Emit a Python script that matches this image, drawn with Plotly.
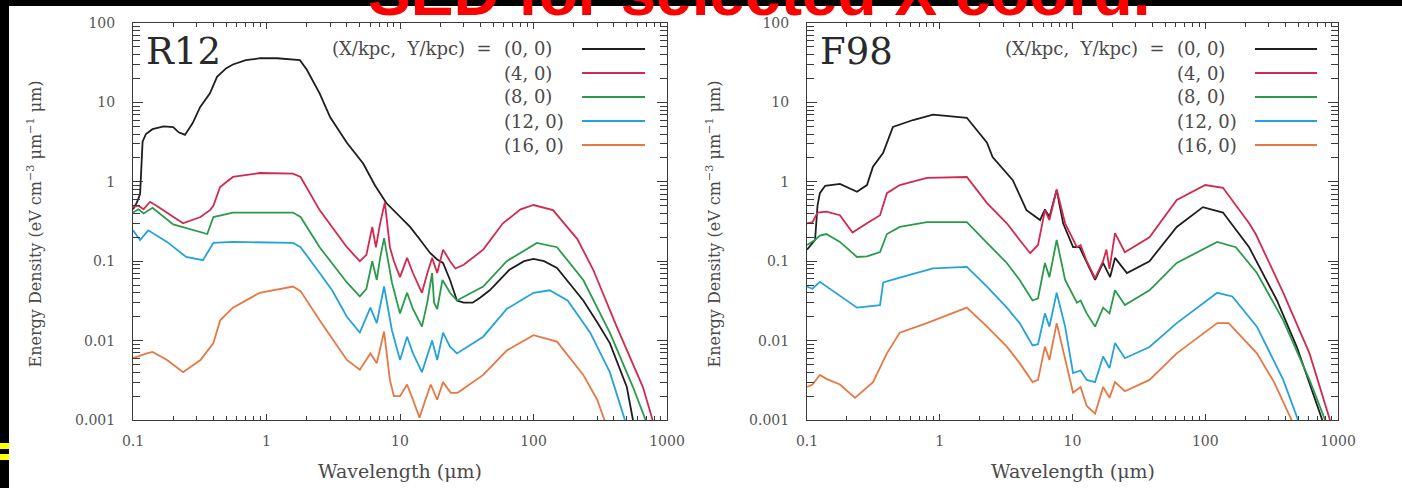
import plotly.graph_objects as go

W, H = 1402, 488

# ---------------- data ----------------
SERIES_NAMES = ["(0, 0)", "(4, 0)", "(8, 0)", "(12, 0)", "(16, 0)"]
SERIES_COLORS = ["#1e1e1e", "#d02a4f", "#2a9a4c", "#24a2d9", "#e57843"]

X_TICKS = [0.1, 1, 10, 100, 1000]
X_TICK_LABELS = ["0.1", "1", "10", "100", "1000"]
Y_TICKS = [0.001, 0.01, 0.1, 1, 10, 100]
Y_TICK_LABELS = ["0.001", "0.01", "0.1", "1", "10", "100"]

# R12 model, wavelength (um) / energy density
r12_x0_lam = [0.1, 0.107, 0.113, 0.118, 0.125, 0.14, 0.17, 0.2, 0.22, 0.245, 0.28, 0.318, 0.377,
              0.426, 0.5, 0.56, 0.7, 0.9, 1.2, 1.6, 1.78, 2.0, 2.5, 3.0, 4.0, 5.3, 6.5, 7.9, 10,
              11.9, 14, 16.8, 19, 21, 23.7, 26.7, 30, 35, 40, 47, 66, 85, 100, 120, 150, 236,
              300, 373, 500, 556, 600]
r12_x0_val = [0.45, 0.55, 0.7, 3.2, 4.0, 4.6, 5.0, 4.9, 4.2, 3.9, 5.5, 8.7, 13,
              21, 27, 30, 34, 36, 36, 35, 34, 26, 13, 6.5, 3.1, 1.7, 0.9, 0.54, 0.36,
              0.27, 0.19, 0.127, 0.105, 0.095, 0.058, 0.032, 0.030, 0.030, 0.035, 0.043, 0.078, 0.1, 0.107, 0.1, 0.082, 0.032,
              0.017, 0.0093, 0.0026, 0.001, 0.0007]

r12_x4_lam = [0.1, 0.11, 0.12, 0.134, 0.15, 0.18, 0.237, 0.32, 0.377, 0.40, 0.449, 0.56, 0.89, 1.58,
              1.8, 2.5, 3.2, 4.0, 5.0, 5.6, 6.2, 6.6, 7.1, 7.7, 8.4, 9.0, 10, 11.3, 12.5, 14.6,
              16, 17.4, 19, 21, 23.7, 26, 30, 42, 59, 80, 100, 140, 213, 280, 420, 660, 780, 850]
r12_x4_val = [0.48, 0.5, 0.45, 0.56, 0.5, 0.41, 0.30, 0.36, 0.44, 0.5, 0.86, 1.15, 1.29, 1.27,
              1.15, 0.44, 0.25, 0.15, 0.10, 0.12, 0.27, 0.15, 0.3, 0.55, 0.15, 0.1, 0.063, 0.11, 0.071, 0.04,
              0.07, 0.11, 0.071, 0.14, 0.10, 0.081, 0.09, 0.14, 0.30, 0.45, 0.51, 0.44, 0.19, 0.078, 0.015, 0.0026, 0.001, 0.0007]

r12_x8_lam = [0.1, 0.11, 0.12, 0.14, 0.2, 0.32, 0.36, 0.40, 0.56, 1.58, 1.8, 2.5, 4.0, 5.0, 5.6,
              6.2, 6.7, 7.1, 7.6, 8.7, 10, 11.3, 12.5, 14.6, 16, 17.4, 18, 19, 20.8, 23.7, 26.7,
              42, 63, 106, 150, 236, 373, 556, 685, 750]
r12_x8_val = [0.41, 0.45, 0.4, 0.47, 0.29, 0.23, 0.22, 0.36, 0.41, 0.41, 0.36, 0.15, 0.054, 0.036, 0.045,
              0.10, 0.058, 0.11, 0.195, 0.054, 0.022, 0.04, 0.025, 0.015, 0.03, 0.071, 0.03, 0.025, 0.058, 0.04, 0.032,
              0.048, 0.10, 0.17, 0.15, 0.058, 0.0126, 0.0026, 0.001, 0.0007]

r12_x12_lam = [0.1, 0.113, 0.13, 0.18, 0.25, 0.334, 0.40, 0.56, 1.58, 1.8, 2.5, 3.1, 4.0, 5.0, 6.0,
               6.7, 7.6, 8.7, 10, 11.3, 12.5, 14.6, 17.4, 19, 21, 23.7, 26.7, 42, 63, 100, 132,
               180, 266, 373, 484, 530]
r12_x12_val = [0.245, 0.185, 0.245, 0.175, 0.113, 0.103, 0.17, 0.175, 0.17, 0.15, 0.071, 0.043, 0.02, 0.0126, 0.026,
               0.0166, 0.048, 0.0135, 0.0057, 0.0112, 0.0069, 0.004, 0.01, 0.0057, 0.0126, 0.0084, 0.0069, 0.0112, 0.025, 0.04, 0.043,
               0.032, 0.0126, 0.004, 0.001, 0.0007]

r12_x16_lam = [0.1, 0.113, 0.127, 0.14, 0.18, 0.237, 0.32, 0.40, 0.45, 0.56, 0.89, 1.58, 1.8, 2.5,
               4.0, 5.0, 6.0, 6.7, 7.6, 8.4, 9.0, 10, 11.3, 12.5, 14, 15.5, 17, 19, 21, 24, 27,
               42, 63, 100, 150, 236, 300, 340, 380]
r12_x16_val = [0.006, 0.0065, 0.0069, 0.0072, 0.0057, 0.004, 0.0057, 0.0093, 0.018, 0.026, 0.04, 0.048, 0.042, 0.018,
               0.0057, 0.0043, 0.0069, 0.0052, 0.013, 0.0032, 0.002, 0.002, 0.0028, 0.0018, 0.00107, 0.0018, 0.0028, 0.0018, 0.003, 0.0022, 0.0022,
               0.0037, 0.0075, 0.0117, 0.0097, 0.0037, 0.0018, 0.001, 0.0007]

# F98 model, wavelength (um) / energy density
f98_x0_lam = [0.1, 0.115, 0.12, 0.125, 0.137, 0.177, 0.238, 0.283, 0.314, 0.374, 0.444, 0.63, 0.89,
              1.6, 2.27, 2.5, 3.55, 4.5, 5.7, 6.2, 6.7, 7.6, 8.5, 10.1, 11.3, 12.8, 14.8, 17, 19.2,
              20.9, 25.7, 38, 61, 96, 136, 214, 347, 490, 760, 820]
f98_x0_val = [0.14, 0.185, 0.5, 0.72, 0.89, 0.94, 0.75, 0.91, 1.55, 2.3, 4.9, 6.0, 7.0,
              6.4, 3.1, 2.05, 1.05, 0.44, 0.33, 0.45, 0.36, 0.79, 0.3, 0.15, 0.15, 0.095, 0.058, 0.095, 0.063,
              0.11, 0.071, 0.10, 0.27, 0.48, 0.41, 0.15, 0.032, 0.0083, 0.001, 0.0007]

f98_x4_lam = [0.1, 0.11, 0.12, 0.14, 0.177, 0.22, 0.283, 0.355, 0.40, 0.5, 0.8, 1.6, 2.27, 3.2,
              4.0, 4.8, 5.5, 6.2, 6.7, 7.6, 8.8, 10.8, 11.5, 12.8, 14.8, 17, 18, 19, 20.9, 24.8,
              38, 61, 100, 136, 214, 240, 387, 610, 870, 950]
f98_x4_val = [0.30, 0.31, 0.41, 0.42, 0.38, 0.23, 0.30, 0.38, 0.72, 0.91, 1.12, 1.15, 0.54, 0.30,
              0.185, 0.126, 0.16, 0.44, 0.33, 0.8, 0.3, 0.15, 0.16, 0.10, 0.061, 0.10, 0.14, 0.08, 0.226, 0.13,
              0.2, 0.59, 0.91, 0.84, 0.30, 0.22, 0.04, 0.0069, 0.001, 0.0007]

f98_x8_lam = [0.1, 0.115, 0.125, 0.14, 0.177, 0.238, 0.283, 0.355, 0.40, 0.5, 0.8, 1.6, 2.27, 3.2,
              4.0, 5.0, 5.5, 6.2, 6.7, 7.6, 8.8, 10.8, 11.5, 12.8, 14.8, 17, 19, 20.9, 24.8, 38,
              61, 123, 170, 245, 387, 610, 800, 870]
f98_x8_val = [0.16, 0.185, 0.21, 0.22, 0.175, 0.113, 0.115, 0.13, 0.22, 0.27, 0.31, 0.31, 0.17, 0.095,
              0.058, 0.032, 0.034, 0.095, 0.063, 0.185, 0.058, 0.03, 0.032, 0.022, 0.015, 0.026, 0.022, 0.043, 0.028, 0.043,
              0.095, 0.175, 0.15, 0.071, 0.018, 0.0032, 0.001, 0.0007]

f98_x12_lam = [0.1, 0.11, 0.125, 0.14, 0.177, 0.238, 0.355, 0.375, 0.5, 0.89, 1.6, 2.27, 3.2, 4.0,
               5.0, 5.5, 6.2, 6.7, 7.6, 8.8, 10.1, 11.5, 12.8, 14.8, 17, 19, 20.9, 24.8, 38, 61,
               123, 160, 245, 387, 500, 560]
f98_x12_val = [0.048, 0.045, 0.055, 0.048, 0.037, 0.026, 0.028, 0.054, 0.062, 0.081, 0.085, 0.048, 0.026, 0.0166,
               0.0087, 0.009, 0.022, 0.015, 0.04, 0.015, 0.0039, 0.0042, 0.0032, 0.003, 0.0063, 0.0045, 0.0093, 0.006, 0.0083, 0.0166,
               0.04, 0.036, 0.015, 0.0032, 0.001, 0.0007]

f98_x16_lam = [0.1, 0.11, 0.125, 0.14, 0.177, 0.23, 0.314, 0.4, 0.5, 0.8, 1.6, 2.27, 3.2, 4.0,
               5.0, 5.5, 6.2, 6.7, 7.6, 8.8, 10.1, 11.5, 12.8, 14.8, 17, 19, 20.9, 24.8, 38, 61,
               123, 150, 245, 330, 420, 460]
f98_x16_val = [0.0026, 0.0028, 0.0037, 0.0033, 0.0028, 0.0019, 0.003, 0.0069, 0.0126, 0.0166, 0.026, 0.015, 0.0084, 0.0052,
               0.003, 0.0032, 0.0084, 0.0057, 0.0166, 0.0057, 0.0022, 0.0026, 0.0015, 0.0012, 0.0026, 0.0019, 0.003, 0.0023, 0.0032, 0.0069,
               0.0166, 0.0166, 0.0069, 0.003, 0.0012, 0.0009]

PANELS = [
    ("R12", [(r12_x0_lam, r12_x0_val), (r12_x4_lam, r12_x4_val), (r12_x8_lam, r12_x8_val),
             (r12_x12_lam, r12_x12_val), (r12_x16_lam, r12_x16_val)]),
    ("F98", [(f98_x0_lam, f98_x0_val), (f98_x4_lam, f98_x4_val), (f98_x8_lam, f98_x8_val),
             (f98_x12_lam, f98_x12_val), (f98_x16_lam, f98_x16_val)]),
]

# ---------------- layout helpers (pixel -> paper) ----------------
def fx(px):
    return px / W


def fy(py):
    return 1 - py / H


TEXT = "#4a4a4a"
SERIF = "DejaVu Serif"
NB = "\u00a0"

# plot frames in pixels: (left, right), shared (top, bottom)
FRAMES = [(133, 667), (807, 1338)]
TOP, BOTTOM = 23, 420

minor_x = [k * 10 ** e for e in range(-1, 3) for k in range(2, 10)]
minor_y = [k * 10 ** e for e in range(-3, 2) for k in range(2, 10)]

fig = go.Figure()

for i, (label, series) in enumerate(PANELS):
    xa = "x" if i == 0 else "x2"
    ya = "y" if i == 0 else "y2"
    for (lam, val), color, name in zip(series, SERIES_COLORS, SERIES_NAMES):
        fig.add_trace(go.Scatter(x=lam, y=val, mode="lines", name=name,
                                 line=dict(color=color, width=1.8),
                                 xaxis=xa, yaxis=ya, showlegend=False,
                                 hoverinfo="skip"))

axis_common = dict(type="log", showline=True, linecolor="#3a3a3a", linewidth=1,
                   mirror="allticks", ticks="inside", tickcolor="#3a3a3a",
                   showgrid=False, zeroline=False, automargin=False,
                   tickfont=dict(family=SERIF, size=14, color="#555555"))

layout_axes = {}
for i, (l, r) in enumerate(FRAMES):
    sfx = "" if i == 0 else "2"
    layout_axes["xaxis" + sfx] = dict(
        axis_common, domain=[fx(l), fx(r)], range=[-1, 3], anchor="y" + sfx,
        tickmode="array", tickvals=X_TICKS, ticktext=X_TICK_LABELS,
        ticklen=6, tickwidth=1, ticklabelstandoff=8,
        minor=dict(ticks="inside", ticklen=4, tickcolor="#3a3a3a", tickmode="array",
                   tickvals=minor_x, showgrid=False))
    layout_axes["yaxis" + sfx] = dict(
        axis_common, domain=[fy(BOTTOM), fy(TOP)], range=[-3, 2], anchor="x" + sfx,
        tickmode="array", tickvals=Y_TICKS, ticktext=Y_TICK_LABELS,
        ticklen=10, tickwidth=1, ticklabelstandoff=14,
        minor=dict(ticks="inside", ticklen=7, tickcolor="#3a3a3a", tickmode="array",
                   tickvals=minor_y, showgrid=False))

annotations = []
shapes = []

# white page on black backdrop, plus yellow bars at the left edge
shapes.append(dict(type="rect", xref="paper", yref="paper", x0=fx(9), x1=1.0, y0=0, y1=fy(6),
                   fillcolor="white", line=dict(width=0), layer="below"))
for y0, y1 in [(443, 449), (454, 460)]:
    shapes.append(dict(type="rect", xref="paper", yref="paper", x0=0, x1=fx(9), y0=fy(y1), y1=fy(y0),
                       fillcolor="#ffff00", line=dict(width=0), layer="above"))

LEGEND_ROWS = [49, 73, 97, 121, 145]
legend_geom = [  # (prefix right edge, entry left edge, line x0, line x1)
    (494, 502, 582, 645),
    (1167, 1175, 1255, 1317),
]
label_pos = [(144, 51), (818, 51)]
ytitle_x = [35, 714]
LEG_FONT = 18
LEG_HEADER = "(X/kpc," + NB + NB + "Y/kpc)" + NB + NB + "="

for i, (label, series) in enumerate(PANELS):
    l, r = FRAMES[i]
    pre_r, ent_l, lx0, lx1 = legend_geom[i]
    annotations.append(dict(text=label, x=fx(label_pos[i][0]), y=fy(label_pos[i][1]),
                            xref="paper", yref="paper", xanchor="left", yanchor="middle",
                            showarrow=False, font=dict(family=SERIF, size=37, color="#2a2a2a")))
    annotations.append(dict(text=LEG_HEADER, x=fx(pre_r), y=fy(LEGEND_ROWS[0]),
                            xref="paper", yref="paper", xanchor="right", yanchor="middle",
                            showarrow=False, font=dict(family=SERIF, size=LEG_FONT, color=TEXT)))
    for row, name, color in zip(LEGEND_ROWS, SERIES_NAMES, SERIES_COLORS):
        annotations.append(dict(text=name, x=fx(ent_l), y=fy(row), xref="paper", yref="paper",
                                xanchor="left", yanchor="middle", showarrow=False,
                                font=dict(family=SERIF, size=LEG_FONT, color=TEXT)))
        shapes.append(dict(type="line", xref="paper", yref="paper", x0=fx(lx0), x1=fx(lx1),
                           y0=fy(row), y1=fy(row), line=dict(color=color, width=2.2)))
    annotations.append(dict(text="Wavelength (μm)", x=fx((l + r) / 2), y=fy(471),
                            xref="paper", yref="paper", xanchor="center", yanchor="middle",
                            showarrow=False, font=dict(family=SERIF, size=19, color=TEXT)))
    annotations.append(dict(text="Energy Density (eV cm<sup>−3</sup> μm<sup>−1</sup> μm)",
                            x=fx(ytitle_x[i]), y=fy((TOP + BOTTOM) / 2 + 3), textangle=-90,
                            xref="paper", yref="paper", xanchor="center", yanchor="middle",
                            showarrow=False, font=dict(family=SERIF, size=16, color=TEXT)))

# slide heading
annotations.append(dict(text="<b>SED for selected X coord.</b>", x=fx(759), y=fy(-7),
                        xref="paper", yref="paper", xanchor="center", yanchor="middle",
                        showarrow=False, font=dict(family="Liberation Sans", size=64, color="#ff0000")))

fig.update_layout(
    template="none",
    width=W, height=H,
    margin=dict(l=0, r=0, t=0, b=0, pad=0),
    paper_bgcolor="black",
    plot_bgcolor="white",
    showlegend=False,
    annotations=annotations,
    shapes=shapes,
    **layout_axes,
)

fig.write_html("out.html")
